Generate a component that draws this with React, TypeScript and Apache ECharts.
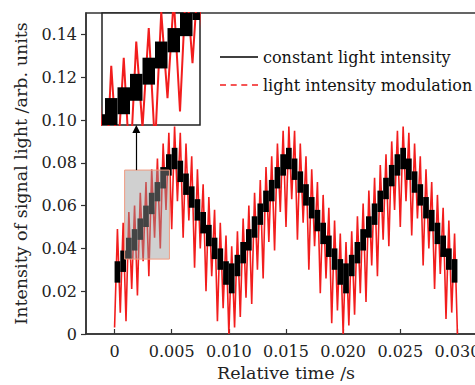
import React, { useEffect, useRef } from 'react';
import * as echarts from 'echarts';

// sampling of the recorded signals
const STEP = 0.0005; // width of one black step (s); red is sampled every STEP/2

const xTicks = [0, 0.005, 0.01, 0.015, 0.02, 0.025, 0.03];
const xTickLabels = ['0', '0.005', '0.010', '0.015', '0.020', '0.025', '0.030'];
const yTicks = [0, 0.02, 0.04, 0.06, 0.08, 0.1, 0.12, 0.14];
const yTickLabels = ['0', '0.02', '0.04', '0.06', '0.08', '0.10', '0.12', '0.14'];

// constant light intensity: lower / upper edge of each step block
const blackLow = [
  0.024, 0.029, 0.035, 0.039, 0.044, 0.050, 0.056, 0.062, 0.068, 0.074,
  0.077, 0.071, 0.065, 0.059, 0.053, 0.047, 0.041, 0.035, 0.030, 0.023,
  0.019, 0.027, 0.033, 0.039, 0.045, 0.051, 0.057, 0.062, 0.068, 0.074,
  0.077, 0.072, 0.066, 0.060, 0.054, 0.048, 0.042, 0.036, 0.030, 0.023,
  0.019, 0.027, 0.033, 0.039, 0.045, 0.051, 0.057, 0.063, 0.069, 0.074,
  0.077, 0.072, 0.066, 0.060, 0.054, 0.048, 0.042, 0.036, 0.030, 0.024,
];
const blackHigh = [
  0.034, 0.039, 0.045, 0.049, 0.054, 0.060, 0.066, 0.071, 0.078, 0.084,
  0.087, 0.081, 0.075, 0.069, 0.063, 0.057, 0.051, 0.045, 0.040, 0.034,
  0.033, 0.037, 0.043, 0.049, 0.055, 0.061, 0.067, 0.072, 0.078, 0.084,
  0.087, 0.082, 0.076, 0.070, 0.064, 0.058, 0.052, 0.046, 0.040, 0.035,
  0.033, 0.037, 0.043, 0.049, 0.055, 0.061, 0.067, 0.073, 0.079, 0.084,
  0.087, 0.082, 0.076, 0.070, 0.064, 0.058, 0.052, 0.046, 0.040, 0.035,
];

// light intensity modulation: alternating low / high samples
const redValues = [
  0.003, 0.049, 0.010, 0.052, 0.006, 0.057, 0.021, 0.060, 0.018, 0.066,
  0.034, 0.071, 0.027, 0.077, 0.045, 0.082, 0.040, 0.089, 0.058, 0.094,
  0.049, 0.097, 0.062, 0.094, 0.045, 0.089, 0.053, 0.083, 0.031, 0.077,
  0.040, 0.070, 0.020, 0.064, 0.027, 0.058, 0.006, 0.052, 0.012, 0.046,
  0.000, 0.041, 0.003, 0.048, 0.008, 0.054, 0.017, 0.060, 0.014, 0.066,
  0.030, 0.072, 0.026, 0.078, 0.043, 0.083, 0.039, 0.089, 0.057, 0.095,
  0.050, 0.097, 0.063, 0.095, 0.044, 0.089, 0.052, 0.083, 0.030, 0.077,
  0.041, 0.071, 0.019, 0.065, 0.026, 0.059, 0.005, 0.053, 0.011, 0.047,
  0.000, 0.043, 0.004, 0.048, 0.009, 0.055, 0.019, 0.061, 0.015, 0.067,
  0.032, 0.073, 0.027, 0.079, 0.044, 0.084, 0.041, 0.090, 0.058, 0.095,
  0.050, 0.097, 0.062, 0.094, 0.046, 0.089, 0.054, 0.083, 0.032, 0.077,
  0.040, 0.071, 0.021, 0.065, 0.028, 0.059, 0.007, 0.053, 0.010, 0.047,
  0.000,
];

// zoomed region shown in the inset
const insetX = [0.00088, 0.0048];
const insetY = [0.035, 0.0766];
const arrowX = 0.0019;
const arrowTop = 0.0958;

const FONT = 'DejaVu Serif';
const RED = '#f21d1d';
const NAME_BLACK = 'constant light intensity';
const NAME_RED = 'light intensity modulation';

const blackData = blackLow.map((lo, i) => [i * STEP, lo, blackHigh[i]]);
const redData = redValues.map((v, i) => [(i * STEP) / 2, v]);

const renderBlock = (_params: any, api: any) => {
  const t = api.value(0);
  const lo = api.value(1);
  const hi = api.value(2);
  const p1 = api.coord([t, hi]);
  const p2 = api.coord([t + STEP, lo]);
  return {
    type: 'rect',
    shape: { x: p1[0], y: p1[1], width: p2[0] - p1[0], height: p2[1] - p1[1] },
    style: { fill: '#000' },
  };
};

const redDash =
  'path://M0,0H6V1.5H0Z M10.7,0H16.7V1.5H10.7Z M21.3,0H27.3V1.5H21.3Z M32,0H38V1.5H32Z';

const option: any = {
  animation: false,
  backgroundColor: '#fff',
  grid: [
    {
      left: 86, top: 13, width: 400, height: 321, show: true, outerBoundsMode: 'none',
      borderColor: '#333', borderWidth: 1.5, backgroundColor: 'transparent',
    },
    {
      left: 102, top: 13, width: 98, height: 112, show: true, outerBoundsMode: 'none',
      borderColor: '#222', borderWidth: 1.5, backgroundColor: '#fff', z: 10,
    },
  ],
  legend: {
    orient: 'vertical', left: 220, top: 49, padding: 0, itemGap: 12,
    itemWidth: 38, itemHeight: 2,
    textStyle: { fontFamily: FONT, fontSize: 16, color: '#111' },
    data: [
      { name: NAME_BLACK, icon: 'path://M0,0H38V1.5H0Z' },
      { name: NAME_RED, icon: redDash },
    ],
  },
  xAxis: [
    {
      type: 'value', gridIndex: 0, min: -0.0025, max: 0.0325,
      axisLine: { show: true, onZero: false, lineStyle: { color: '#333', width: 1.5 } },
      axisTick: { show: true, inside: true, length: 5, customValues: xTicks, lineStyle: { color: '#333', width: 1.2 } },
      axisLabel: {
        customValues: xTicks,
        formatter: (v: number) => xTickLabels[xTicks.findIndex((t) => Math.abs(t - v) < 1e-9)] ?? '',
        fontFamily: FONT, fontSize: 16, color: '#222', margin: 9,
      },
      splitLine: { show: false },
      name: 'Relative time /s', nameLocation: 'middle', nameGap: 30,
      nameTextStyle: { fontFamily: FONT, fontSize: 17.5, color: '#222' },
    },
    { type: 'value', gridIndex: 1, min: insetX[0], max: insetX[1], show: false },
  ],
  yAxis: [
    {
      type: 'value', gridIndex: 0, min: 0, max: 0.15,
      axisLine: { show: true, onZero: false, lineStyle: { color: '#333', width: 1.5 } },
      axisTick: { show: true, inside: false, length: 5, customValues: yTicks, lineStyle: { color: '#333', width: 1.2 } },
      axisLabel: {
        customValues: yTicks,
        formatter: (v: number) => yTickLabels[yTicks.findIndex((t) => Math.abs(t - v) < 1e-9)] ?? '',
        fontFamily: FONT, fontSize: 16, color: '#222', margin: 9,
      },
      splitLine: { show: false },
      name: 'Intensity of signal light /arb. units', nameLocation: 'middle', nameGap: 52,
      nameTextStyle: { fontFamily: FONT, fontSize: 17.5, color: '#222' },
    },
    { type: 'value', gridIndex: 1, min: insetY[0], max: insetY[1], show: false },
  ],
  series: [
    {
      name: NAME_RED, type: 'line', xAxisIndex: 0, yAxisIndex: 0, data: redData,
      symbol: 'none', z: 2,
      itemStyle: { color: RED },
      lineStyle: { color: RED, width: 1.6, type: 'solid' },
      markArea: {
        z: 6, silent: true,
        itemStyle: { color: 'rgba(150,150,150,0.45)', borderColor: '#f09a80', borderWidth: 1 },
        data: [[{ xAxis: insetX[0], yAxis: insetY[0] }, { xAxis: insetX[1], yAxis: insetY[1] }]],
      },
      markLine: {
        z: 15, silent: true, symbol: ['none', 'triangle'], symbolSize: 8,
        label: { show: false },
        itemStyle: { color: '#000' },
        lineStyle: { color: '#000', width: 1.2, type: 'solid' },
        data: [[{ coord: [arrowX, insetY[1]] }, { coord: [arrowX, arrowTop] }]],
      },
    },
    {
      name: NAME_BLACK, type: 'custom', xAxisIndex: 0, yAxisIndex: 0, data: blackData,
      renderItem: renderBlock, encode: { x: 0, y: [1, 2] }, clip: true, z: 3,
      itemStyle: { color: '#000' },
    },
    {
      name: NAME_RED, type: 'line', xAxisIndex: 1, yAxisIndex: 1, data: redData,
      symbol: 'none', z: 11, clip: true,
      itemStyle: { color: RED },
      lineStyle: { color: RED, width: 2, type: 'solid' },
    },
    {
      name: NAME_BLACK, type: 'custom', xAxisIndex: 1, yAxisIndex: 1, data: blackData,
      renderItem: renderBlock, encode: { x: 0, y: [1, 2] }, clip: true, z: 12,
      itemStyle: { color: '#000' },
    },
  ],
};

export default function App() {
  const ref = useRef<HTMLDivElement>(null);
  useEffect(() => {
    const chart = echarts.init(ref.current!, null, { renderer: 'svg' });
    chart.setOption(option);
    return () => chart.dispose();
  }, []);
  return (
    <div
      ref={ref}
      style={{ position: 'fixed', left: 0, top: 0, width: 475, height: 385, background: '#fff' }}
    />
  );
}
